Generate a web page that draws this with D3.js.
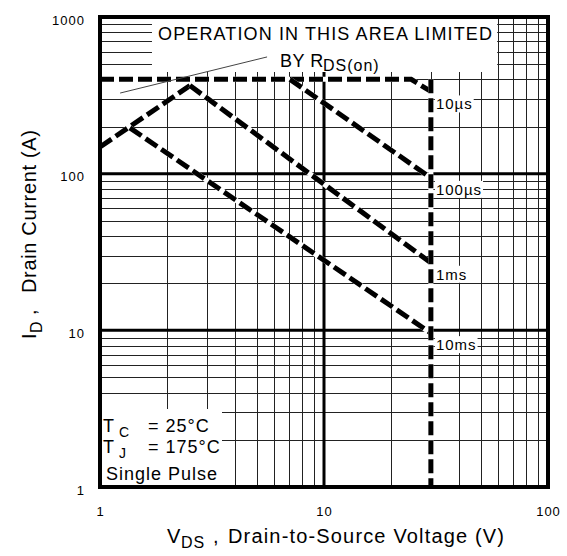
<!DOCTYPE html>
<html><head><meta charset="utf-8">
<script src="https://cdn.jsdelivr.net/npm/d3@7"></script>
<style>
html,body{margin:0;padding:0;background:#fff;}
text{font-family:"Liberation Sans",Arial,sans-serif;fill:#000;}
</style></head>
<body><svg id="c" width="567" height="556"></svg>
<script>
// ---- data ----
const xTicks = [1, 10, 100];
const yTicks = [1, 10, 100, 1000];
const xTickLabels = ["1", "10", "100"];
const yTickLabels = ["1", "10", "100", "1000"];
// SOA boundary lines (V, A)
const rdsLimitV = [1, 2.52];
const rdsLimitI = [148, 365];
const us10V = [1, 24.5, 30];
const us10I = [400, 400, 335];
const us100V = [7.05, 30];
const us100I = [400, 94];
const ms1V = [2.52, 30];
const ms1I = [365, 27];
const ms10V = [1.36, 30];
const ms10I = [196, 9.6];
const bvdssV = [30, 30];
const bvdssI = [400, 1];
const curveLabels = ["10µs", "100µs", "1ms", "10ms"];
const curveLabelI = [330, 94, 27, 9.6];
// pointer of the R_DS(on) annotation
const pointerV = [1.23, 5.57];
const pointerI = [327, 556];

const svg = d3.select("#c");
const L = 100, R = 548, T = 17, B = 487;
const x = d3.scaleLog().domain([1, 100]).range([L, R]);
const y = d3.scaleLog().domain([1, 1000]).range([B, T]);

// grid
const minorX = [], minorY = [];
[1, 10].forEach(d => { for (let k = 2; k <= 9; k++) minorX.push(d * k); });
[1, 10, 100].forEach(d => { for (let k = 2; k <= 9; k++) minorY.push(d * k); });
const g = svg.append("g");
g.selectAll(".vx").data(minorX).join("line")
  .attr("x1", d => Math.round(x(d)) + 0.5).attr("x2", d => Math.round(x(d)) + 0.5)
  .attr("y1", T).attr("y2", B).attr("stroke", "#222").attr("stroke-width", 1);
g.selectAll(".hy").data(minorY).join("line")
  .attr("y1", d => Math.round(y(d)) + 0.5).attr("y2", d => Math.round(y(d)) + 0.5)
  .attr("x1", L).attr("x2", R).attr("stroke", "#222").attr("stroke-width", 1);
g.selectAll(".MX").data([10]).join("line")
  .attr("x1", d => x(d)).attr("x2", d => x(d)).attr("y1", T).attr("y2", B)
  .attr("stroke", "#000").attr("stroke-width", 3);
g.selectAll(".MY").data([10, 100]).join("line")
  .attr("y1", d => y(d)).attr("y2", d => y(d)).attr("x1", L).attr("x2", R)
  .attr("stroke", "#000").attr("stroke-width", 3);

// white boxes behind annotations
svg.append("rect").attr("x", x(1.706)).attr("y", T).attr("width", x(59.3) - x(1.706)).attr("height", 55).attr("fill", "#fff");
svg.append("rect").attr("x", L).attr("y", 409).attr("width", 122).attr("height", B - 409).attr("fill", "#fff");

// dashed curves
const line = d3.line().x(d => x(d[0])).y(d => y(d[1]));
const series = [
  [rdsLimitV, rdsLimitI], [us10V, us10I], [us100V, us100I],
  [ms1V, ms1I], [ms10V, ms10I], [bvdssV, bvdssI]
].map(([v, i]) => v.map((vv, k) => [vv, i[k]]));
const cg = svg.append("g");
series.forEach(s => {
  cg.append("path").attr("d", line(s)).attr("fill", "none").attr("stroke", "#fff").attr("stroke-width", 5);
  cg.append("path").attr("d", line(s)).attr("fill", "none").attr("stroke", "#000")
    .attr("stroke-width", 5).attr("stroke-dasharray", "14,5");
});

// pointer line
svg.append("line").attr("x1", x(pointerV[0])).attr("y1", y(pointerI[0]))
  .attr("x2", x(pointerV[1])).attr("y2", y(pointerI[1])).attr("stroke", "#444").attr("stroke-width", 1);

// curve labels
const lg = svg.append("g");
curveLabels.forEach((t, k) => {
  const tx = lg.append("text").attr("x", x(30) + 5).attr("y", y(curveLabelI[k]) + 17)
    .attr("font-size", 15).attr("letter-spacing", 1).text(t);
  const bb = tx.node().getBBox();
  lg.insert("rect", "text").attr("x", bb.x - 1).attr("y", bb.y).attr("width", bb.width + 2)
    .attr("height", bb.height).attr("fill", "#fff");
});

// border
svg.append("rect").attr("x", L).attr("y", T).attr("width", R - L).attr("height", B - T)
  .attr("fill", "none").attr("stroke", "#000").attr("stroke-width", 4);

// annotation texts
svg.append("text").attr("x", 158).attr("y", 40).attr("font-size", 18)
  .attr("textLength", 334).attr("lengthAdjust", "spacing").text("OPERATION IN THIS AREA LIMITED");
svg.append("text").attr("x", 280).attr("y", 67).attr("font-size", 18).attr("letter-spacing", 0.5).text("BY R");
svg.append("text").attr("x", 323).attr("y", 71).attr("font-size", 16).attr("letter-spacing", 1).text("DS(on)");

svg.append("text").attr("x", 103).attr("y", 432).attr("font-size", 18).text("T");
svg.append("text").attr("x", 119).attr("y", 437).attr("font-size", 14).text("C");
svg.append("text").attr("x", 148).attr("y", 432).attr("font-size", 18).attr("letter-spacing", 1).text("= 25°C");
svg.append("text").attr("x", 103).attr("y", 453).attr("font-size", 18).text("T");
svg.append("text").attr("x", 119).attr("y", 458).attr("font-size", 14).text("J");
svg.append("text").attr("x", 148).attr("y", 453).attr("font-size", 18).attr("letter-spacing", 1).text("= 175°C");
svg.append("text").attr("x", 106).attr("y", 480).attr("font-size", 18).attr("letter-spacing", 1).text("Single Pulse");

// axes (tick labels)
const ax = svg.append("g").attr("transform", `translate(0,${B})`)
  .call(d3.axisBottom(x).tickValues(xTicks).tickSize(0).tickPadding(20)
    .tickFormat((d, i) => xTickLabels[i]));
const ay = svg.append("g").attr("transform", `translate(${L},0)`)
  .call(d3.axisLeft(y).tickValues(yTicks).tickSize(0).tickPadding(15)
    .tickFormat((d, i) => yTickLabels[i]));
[ax, ay].forEach(a => {
  a.select(".domain").remove();
  a.selectAll("text").attr("font-size", 13).attr("letter-spacing", 1)
    .style("font-family", '"Liberation Sans",Arial,sans-serif').attr("fill", "#222");
});
ay.selectAll("text").attr("dy", "0.55em");

// axis titles
svg.append("text").attr("x", 167).attr("y", 543).attr("font-size", 20).text("V");
svg.append("text").attr("x", 181).attr("y", 548).attr("font-size", 16).attr("letter-spacing", 1).text("DS");
svg.append("text").attr("x", 213).attr("y", 543).attr("font-size", 20).text(",");
svg.append("text").attr("x", 228).attr("y", 543).attr("font-size", 20)
  .attr("textLength", 276).attr("lengthAdjust", "spacing").text("Drain-to-Source Voltage (V)");

const yt = svg.append("g").attr("transform", "translate(36,339) rotate(-90)");
yt.append("text").attr("x", 0).attr("y", 0).attr("font-size", 20).text("I");
yt.append("text").attr("x", 6).attr("y", 6).attr("font-size", 16).text("D");
yt.append("text").attr("x", 24).attr("y", 0).attr("font-size", 20).text(",");
yt.append("text").attr("x", 46).attr("y", 0).attr("font-size", 20)
  .attr("textLength", 163).attr("lengthAdjust", "spacing").text("Drain Current (A)");
</script></body></html>
